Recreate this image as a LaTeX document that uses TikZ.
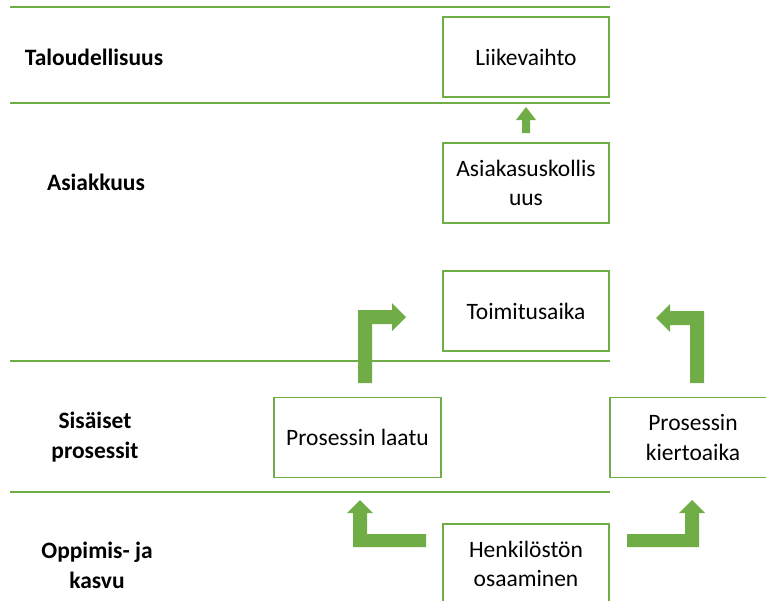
\documentclass[tikz,border=0pt]{standalone}
\usepackage{fontspec}
\setmainfont{Carlito}
\definecolor{ogreen}{HTML}{70AD47}
\begin{document}
\begin{tikzpicture}[x=1pt,y=-1pt,
  box/.style={draw=ogreen,line width=1.3pt,minimum width=166pt,minimum height=80pt,inner sep=2pt,align=center,font=\fontsize{23.5}{29.5}\selectfont},
  lab/.style={align=center,font=\fontsize{23.5}{30}\selectfont\bfseries},
  sep/.style={draw=ogreen,line width=1.3pt},
  blk/.style={fill=ogreen,draw=none}]
\useasboundingbox (0,0) rectangle (766,600);
\clip (0,0) rectangle (766,600);
% separators
\draw[sep] (10,7) -- (610,7);
\draw[sep] (10,103) -- (610,103);
\draw[sep] (10,361) -- (610,361);
\draw[sep] (10,492) -- (610,492);
% labels
\node[lab] (l1) at (94,57) {Taloudellisuus};
\node[lab] (l2) at (96,182) {Asiakkuus};
\node[lab] (l3) at (95,437) {Sisäiset\\prosessit};
\node[lab] (l4) at (97,565) {Oppimis- ja\\kasvu};
% boxes
\node[box] (liike) at (526,57) {Liikevaihto};
\node[box] (asiak) at (526,183) {Asiakasuskollis\\uus};
\node[box] (toimi) at (526,311) {Toimitusaika};
\node[box,minimum width=167pt] (laatu) at (357.5,437.5) {Prosessin laatu};
\node[box] (kierto) at (693,437.5) {Prosessin\\kiertoaika};
\node[box] (henk) at (526,564) {Henkilöstön\\osaaminen};
% block arrows
\fill[blk] (522,133) -- (522,120) -- (516,120) -- (526,107) -- (536,120) -- (530,120) -- (530,133) -- cycle;
\fill[blk] (358,383) -- (358,310) -- (392,310) -- (392,303) -- (406,317) -- (392,331) -- (392,324) -- (372,324) -- (372,383) -- cycle;
\fill[blk] (704,383) -- (704,311) -- (670,311) -- (670,304) -- (656,318) -- (670,332) -- (670,325) -- (690,325) -- (690,383) -- cycle;
\fill[blk] (426,534) -- (367,534) -- (367,513) -- (373,513) -- (360,500) -- (347,513) -- (353,513) -- (353,547) -- (426,547) -- cycle;
\fill[blk] (627,534) -- (685,534) -- (685,513) -- (679,513) -- (692,500) -- (705,513) -- (699,513) -- (699,547) -- (627,547) -- cycle;
\end{tikzpicture}
\end{document}
